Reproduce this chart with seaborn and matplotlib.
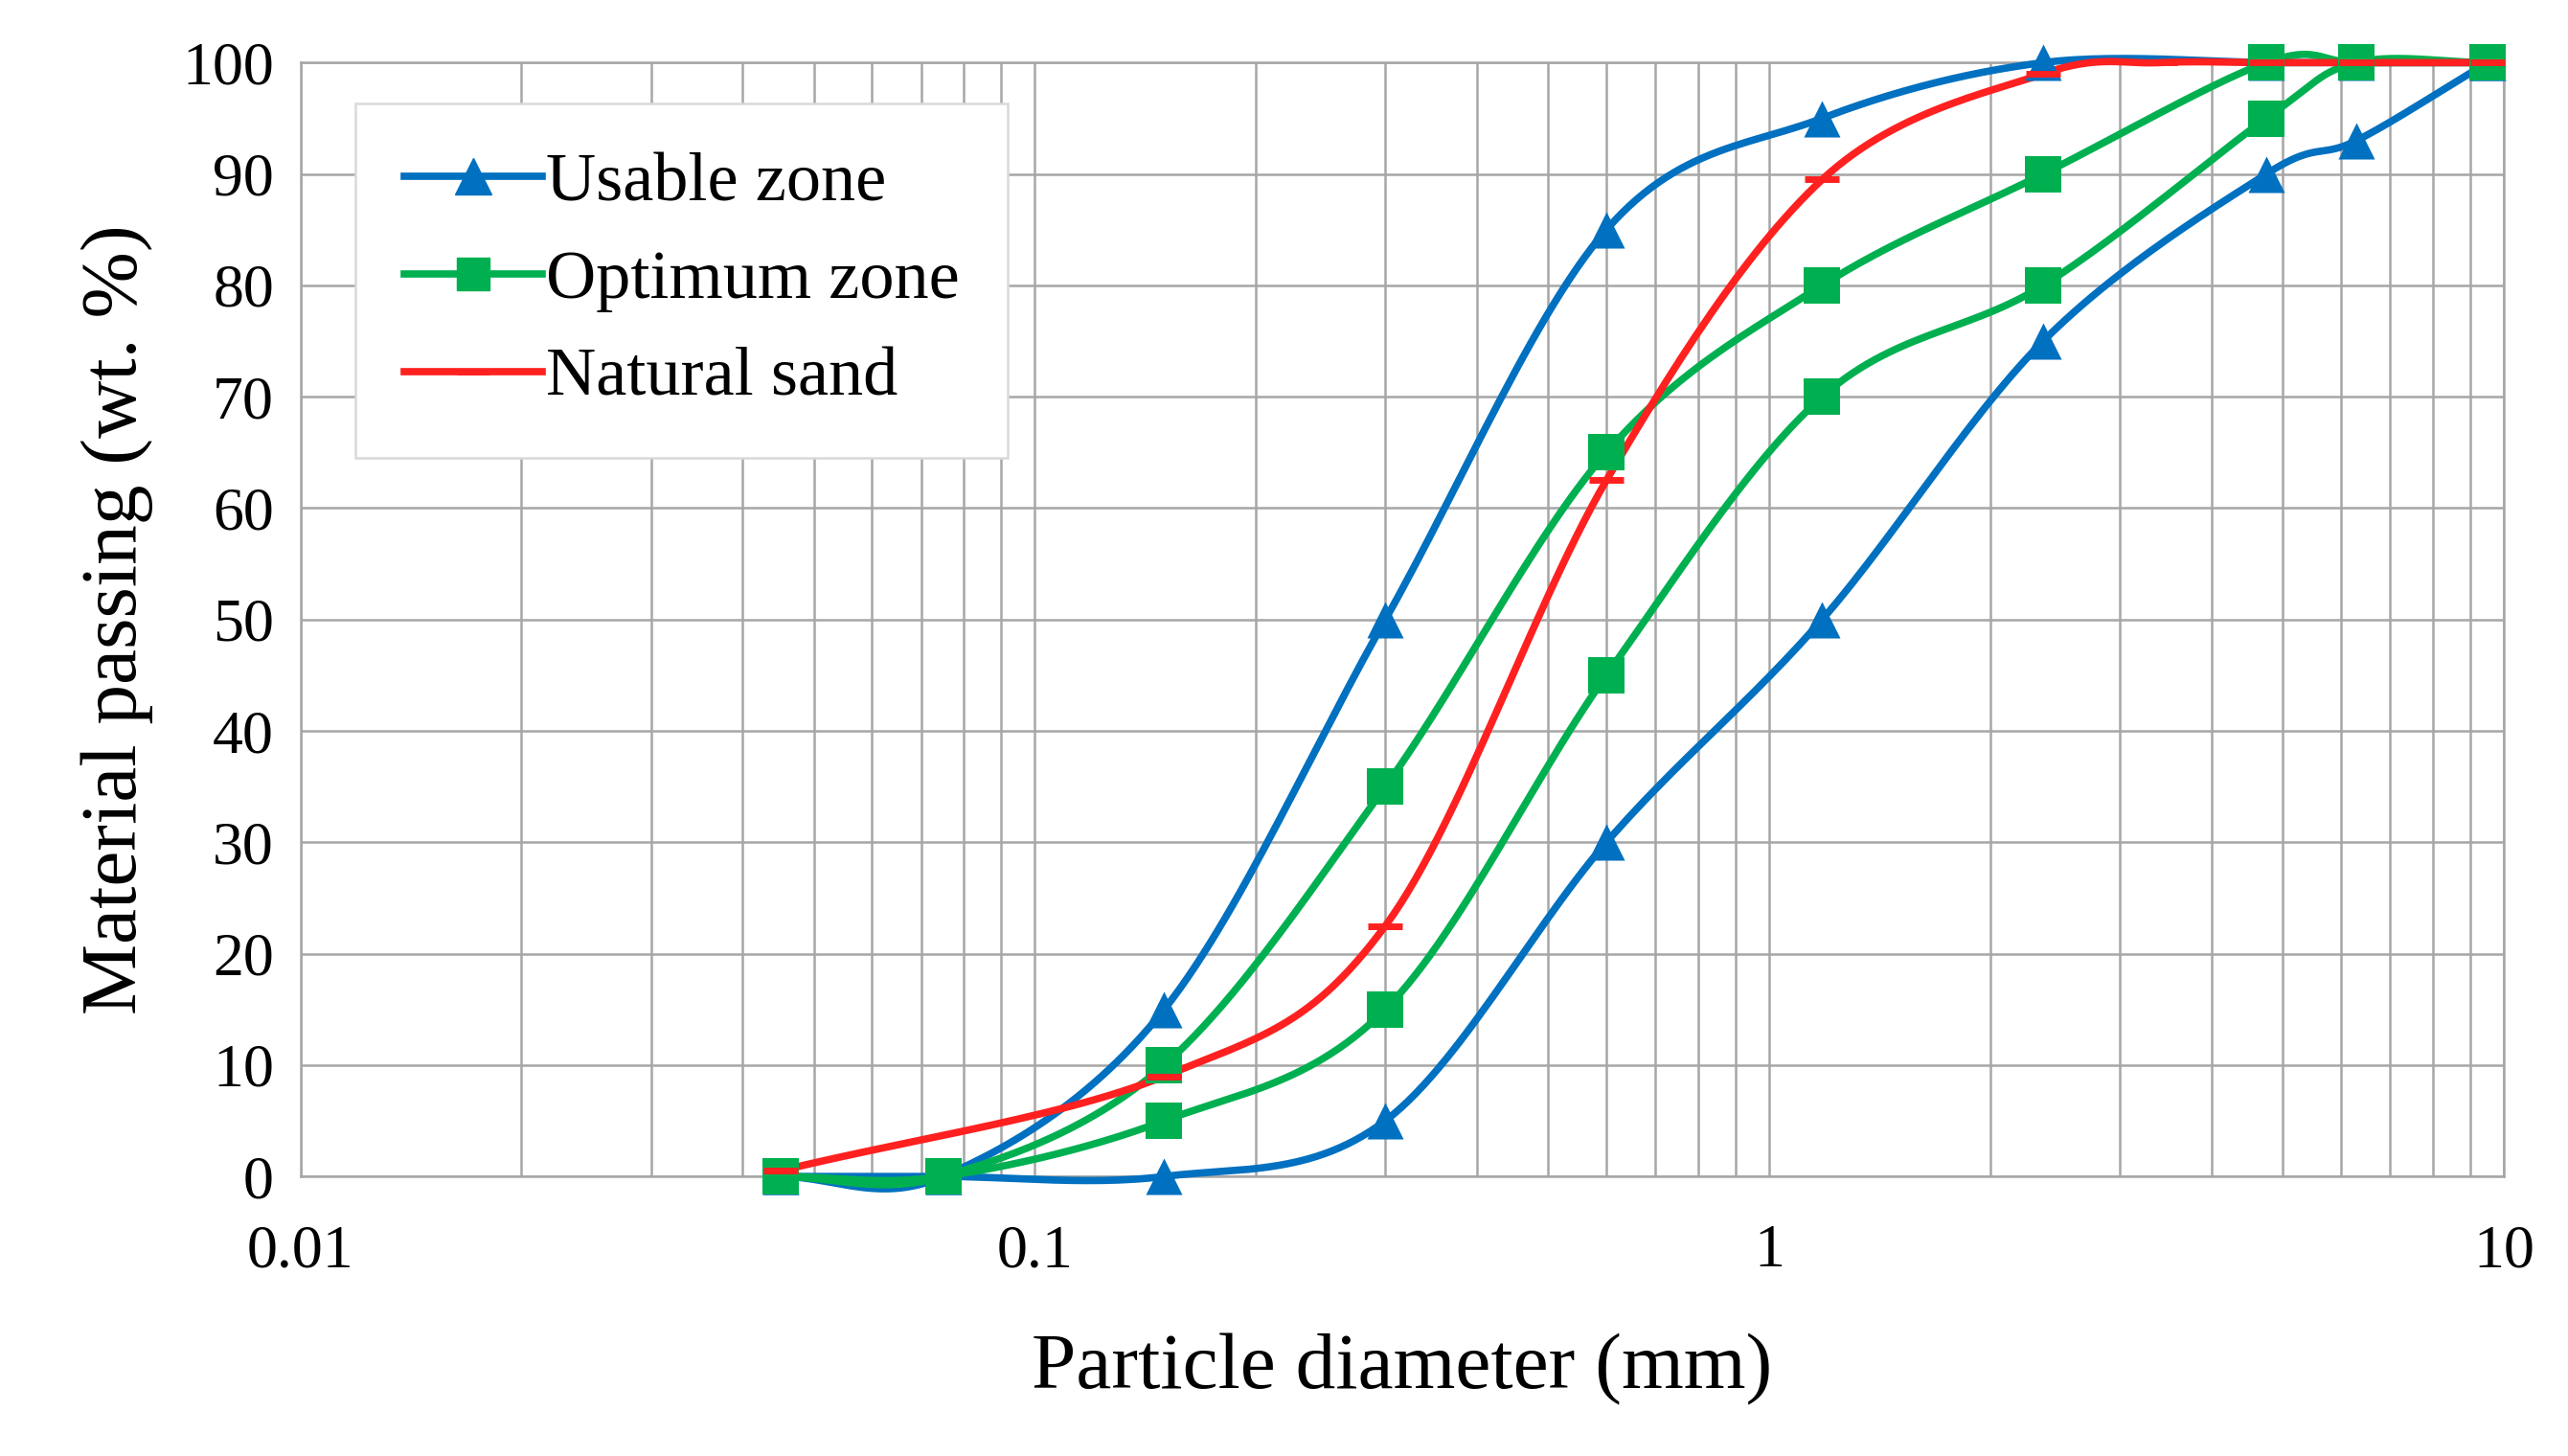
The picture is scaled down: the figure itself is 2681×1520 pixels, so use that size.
import numpy as np
import pandas as pd
import seaborn as sns
import matplotlib
import matplotlib.pyplot as plt
from matplotlib.lines import Line2D

matplotlib.rcParams['font.family'] = 'Liberation Serif'

# 数据
sieve = [0.045, 0.075, 0.15, 0.3, 0.6, 1.18, 2.36, 4.75, 6.3, 9.5]
usable_upper = [0, 0, 15, 50, 85, 95, 100, 100, 100, 100]
usable_lower = [0, 0, 0, 5, 30, 50, 75, 90, 93, 100]
optimum_upper = [0, 0, 10, 35, 65, 80, 90, 100, 100, 100]
optimum_lower = [0, 0, 5, 15, 45, 70, 80, 95, 100, 100]
sand_x = [0.045, 0.15, 0.3, 0.6, 1.18, 2.36, 3.4, 4.75, 6.3, 9.5]
sand_y = [0.5, 9, 22.5, 62.5, 89.5, 99, 100, 100, 100, 100]

BLUE, GREEN, RED = '#0070C0', '#00B050', '#FF2020'


def smooth(x, y, n=30):
    # Catmull-Rom 平滑（对数 x 坐标），模拟 Excel 平滑线
    lx = np.log10(x)
    y = np.asarray(y, float)
    px = np.concatenate([[2 * lx[0] - lx[1]], lx, [2 * lx[-1] - lx[-2]]])
    py = np.concatenate([[2 * y[0] - y[1]], y, [2 * y[-1] - y[-2]]])
    ox, oy = [], []
    t = np.linspace(0, 1, n)
    for i in range(1, len(px) - 2):
        for p, o in ((px, ox), (py, oy)):
            p0, p1, p2, p3 = p[i - 1:i + 3]
            o.extend(0.5 * (2 * p1 + (-p0 + p2) * t + (2 * p0 - 5 * p1 + 4 * p2 - p3) * t ** 2
                            + (-p0 + 3 * p1 - 3 * p2 + p3) * t ** 3))
    return 10 ** np.array(ox), np.array(oy)


fig, ax = plt.subplots(figsize=(26.81, 15.2), dpi=100)
fig.subplots_adjust(left=0.117, right=0.975, top=0.957, bottom=0.192)

series = [(sieve, usable_upper, BLUE, '^'), (sieve, usable_lower, BLUE, '^'),
          (sieve, optimum_upper, GREEN, 's'), (sieve, optimum_lower, GREEN, 's'),
          (sand_x, sand_y, RED, '_')]
for x, y, c, m in series:
    sx, sy = smooth(x, y)
    ax.plot(sx, sy, color=c, lw=5.5, zorder=3, clip_on=False)
    if x is sieve:
        sns.scatterplot(x=x, y=y, color=c, marker=m, s=750, edgecolor=c, linewidth=0,
                        ax=ax, zorder=4, clip_on=False)
    else:
        sns.scatterplot(x=x, y=y, color=c, marker=m, s=700, linewidth=5, ax=ax, zorder=4,
                        clip_on=False)

ax.set_xscale('log')
ax.set_xlim(0.01, 10)
ax.set_ylim(0, 100)
ax.set_yticks(range(0, 101, 10))
ax.set_xticks([0.01, 0.1, 1, 10])
ax.set_xticklabels(['0.01', '0.1', '1', '10'])
ax.grid(True, which='both', axis='x', color='#A6A6A6', lw=1.8)
ax.grid(True, which='major', axis='y', color='#A6A6A6', lw=1.8)
ax.set_axisbelow(True)
for s in ax.spines.values():
    s.set_color('#A6A6A6')
    s.set_linewidth(1.8)
ax.tick_params(axis='both', which='both', length=0, labelsize=46)
ax.tick_params(axis='x', pad=36)
ax.tick_params(axis='y', pad=20)
ax.set_xlabel('Particle diameter (mm)', fontsize=60, labelpad=40)
ax.set_ylabel('Material passing (wt. %)', fontsize=60, labelpad=22)

handles = [Line2D([], [], color=BLUE, lw=5.5, marker='^', ms=27),
           Line2D([], [], color=GREEN, lw=5.5, marker='s', ms=24),
           Line2D([], [], color=RED, lw=5.5, marker='_', ms=24, mew=5)]
leg = ax.legend(handles, ['Usable zone', 'Optimum zone', 'Natural sand'],
                loc='upper left', bbox_to_anchor=(0.025, 0.963), fontsize=52,
                fancybox=False, framealpha=1, edgecolor='#D9D9D9', borderpad=0.7,
                labelspacing=0.5, handlelength=2.0, handletextpad=0.05, borderaxespad=0)
leg.get_frame().set_linewidth(1.8)
leg.set_zorder(5)

fig.savefig('out.png', dpi=100)
